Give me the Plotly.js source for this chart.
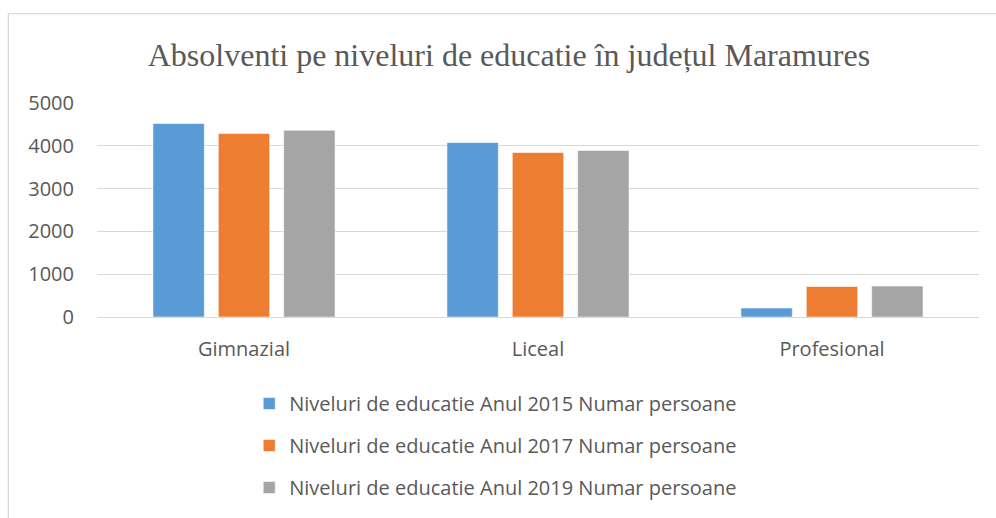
<!DOCTYPE html>
<html>
<head>
<meta charset="utf-8">
<script src="https://cdn.plot.ly/plotly-3.0.1.min.js"></script>
<style>
  html, body { margin: 0; padding: 0; background: #fff; }
  #chart { width: 996px; height: 518px; }
</style>
</head>
<body>
<div id="chart"></div>
<script>
const categories = ["Gimnazial", "Liceal", "Profesional"];
const seriesNames = [
  "Niveluri de educatie Anul 2015 Numar persoane",
  "Niveluri de educatie Anul 2017 Numar persoane",
  "Niveluri de educatie Anul 2019 Numar persoane"
];
const values2015 = [4520, 4076, 210];
const values2017 = [4286, 3843, 713];
const values2019 = [4363, 3890, 722];
const yTicks = [0, 1000, 2000, 3000, 4000, 5000];

const colors = ["#5B9BD5", "#ED7D31", "#A5A5A5"];
const allValues = [values2015, values2017, values2019];

const traces = allValues.map((vals, i) => ({
  type: "bar",
  x: categories,
  y: vals,
  name: seriesNames[i],
  legendgroup: "g" + i,
  marker: { color: colors[i], line: { color: "rgba(255,255,255,0.55)", width: 1 } },
  hoverinfo: "x+y+name"
}));

const textColor = "#595959";
const layout = {
  width: 996,
  height: 518,
  margin: { l: 97, r: 17, t: 103, b: 201, pad: 0, autoexpand: false },
  paper_bgcolor: "#ffffff",
  plot_bgcolor: "#ffffff",
  barmode: "group",
  bargap: 0.333,
  bargroupgap: 0.214,
  title: {
    text: "Absolventi pe niveluri de educatie în județul Maramures",
    font: { family: "Liberation Serif, Times New Roman, serif", size: 32, color: textColor },
    xref: "container", x: 0.511, xanchor: "center",
    yref: "container", y: 1 - 55 / 518, yanchor: "middle"
  },
  font: { family: "Open Sans, sans-serif", size: 20, color: textColor },
  xaxis: {
    type: "category",
    showgrid: false,
    showline: false,
    zeroline: false,
    ticks: "",
    ticklabelstandoff: 18,
    tickfont: { size: 20, color: textColor }
  },
  yaxis: {
    range: [0, 5000],
    tickvals: yTicks,
    ticktext: yTicks.map(String),
    showgrid: true,
    gridcolor: "#d9d9d9",
    gridwidth: 1.3,
    zeroline: true,
    zerolinecolor: "#d9d9d9",
    zerolinewidth: 1.3,
    showline: false,
    ticks: "",
    ticklabelstandoff: 22,
    tickfont: { size: 20, color: textColor }
  },
  showlegend: true,
  legend: {
    orientation: "v",
    xref: "paper", x: 0.1726, xanchor: "left",
    yref: "container", y: 1 - 384 / 518, yanchor: "top",
    tracegroupgap: 13,
    font: { size: 20, color: textColor },
    bgcolor: "rgba(0,0,0,0)"
  },
  shapes: [
    { type: "line", xref: "paper", yref: "paper",
      x0: -0.1005, x1: 1.05, y0: 1.418, y1: 1.418,
      line: { color: "#d9d9d9", width: 1.3 } },
    { type: "line", xref: "paper", yref: "paper",
      x0: -0.1005, x1: -0.1005, y0: 1.418, y1: -0.95,
      line: { color: "#d9d9d9", width: 1.3 } }
  ]
};

Plotly.newPlot("chart", traces, layout, { displayModeBar: false, responsive: false });
</script>
</body>
</html>
